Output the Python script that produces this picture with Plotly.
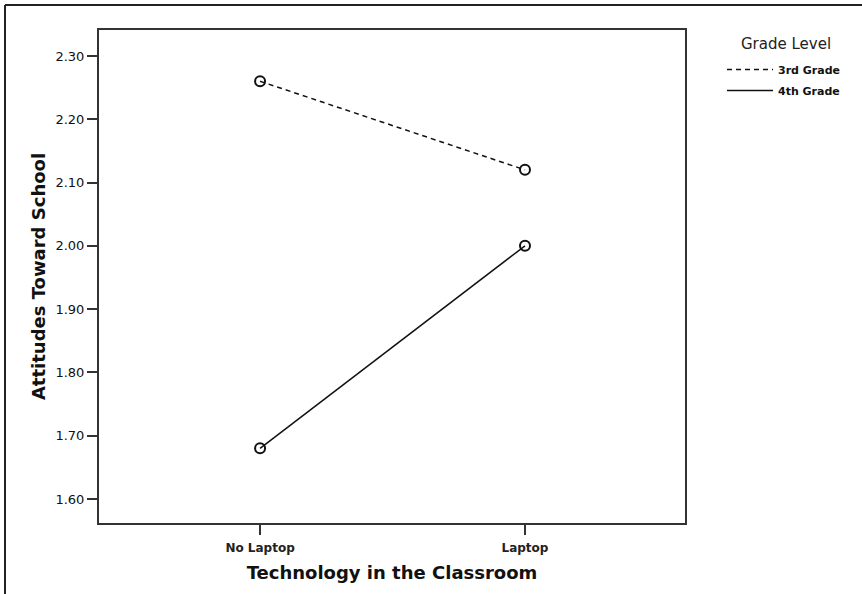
import plotly.graph_objects as go

categories = ["No Laptop", "Laptop"]
grade3 = [2.26, 2.12]
grade4 = [1.68, 2.00]
series_names = ["3rd Grade", "4th Grade"]
y_ticks = [1.60, 1.70, 1.80, 1.90, 2.00, 2.10, 2.20, 2.30]

FONT = "DejaVu Sans, Arial"
dashes = ["5px,4px", "solid"]

fig = go.Figure()
for name, vals, dash in zip(series_names, [grade3, grade4], dashes):
    fig.add_trace(go.Scatter(
        x=[0, 1], y=vals, name=name, mode="lines+markers", showlegend=False,
        line=dict(color="#111", width=1.5, dash=dash),
        marker=dict(symbol="circle-open", size=10, color="#111", line=dict(width=2)),
    ))
# legend entries (line samples only)
for i, (name, dash) in enumerate(zip(series_names, dashes)):
    fig.add_trace(go.Scatter(
        x=[None], y=[None], name=f"<b>{name}</b>", mode="lines", legendgroup=f"g{i}",
        line=dict(color="#111", width=1.5, dash=dash),
    ))

axis_common = dict(
    showline=True, mirror=True, linecolor="#333", linewidth=2,
    ticks="outside", ticklen=10, tickwidth=1.5, tickcolor="#333",
    showgrid=False, zeroline=False,
)

fig.update_xaxes(
    tickmode="array", tickvals=[0, 1], ticktext=[f"<b>{c}</b>" for c in categories],
    range=[-0.608, 1.604],
    tickfont=dict(family=FONT, size=12, color="#222"),
    ticklabelstandoff=3,
    title=dict(text="<b>Technology in the Classroom</b>",
               font=dict(family=FONT, size=18, color="#111"),
               standoff=12),
    **axis_common,
)
fig.update_yaxes(
    tickmode="array", tickvals=y_ticks, ticktext=[f"{v:.2f}" for v in y_ticks],
    range=[1.562, 2.341],
    tickfont=dict(family=FONT, size=13, color="#111"),
    title=dict(text="<b>Attitudes Toward School</b>",
               font=dict(family=FONT, size=18, color="#111"),
               standoff=5),
    **axis_common,
)

fig.update_layout(
    width=862, height=594,
    margin=dict(l=99, r=177, t=30, b=71),
    paper_bgcolor="white", plot_bgcolor="white",
    legend=dict(
        x=(722 - 99) / 586, y=1 - (55 - 30) / 493, xanchor="left", yanchor="top",
        font=dict(family=FONT, size=11, color="#111"),
        tracegroupgap=2, itemwidth=46,
    ),
    annotations=[
        dict(text="Grade Level", xref="paper", yref="paper",
             x=(786 - 99) / 586, y=1 - (44 - 30) / 493, xanchor="center", yanchor="middle",
             showarrow=False, font=dict(family=FONT, size=15, color="#222")),
    ],
    shapes=[
        dict(type="line", xref="paper", yref="paper", x0=(5 - 99) / 586, x1=(862 - 99) / 586,
             y0=1 + 25 / 493, y1=1 + 25 / 493, line=dict(color="#222", width=2)),
        dict(type="line", xref="paper", yref="paper", x0=(5 - 99) / 586, x1=(5 - 99) / 586,
             y0=1 + 25 / 493, y1=-71 / 493, line=dict(color="#222", width=2)),
    ],
)

fig.write_html("out.html", config={"displayModeBar": False},
               post_script="document.body.style.margin='0';")
